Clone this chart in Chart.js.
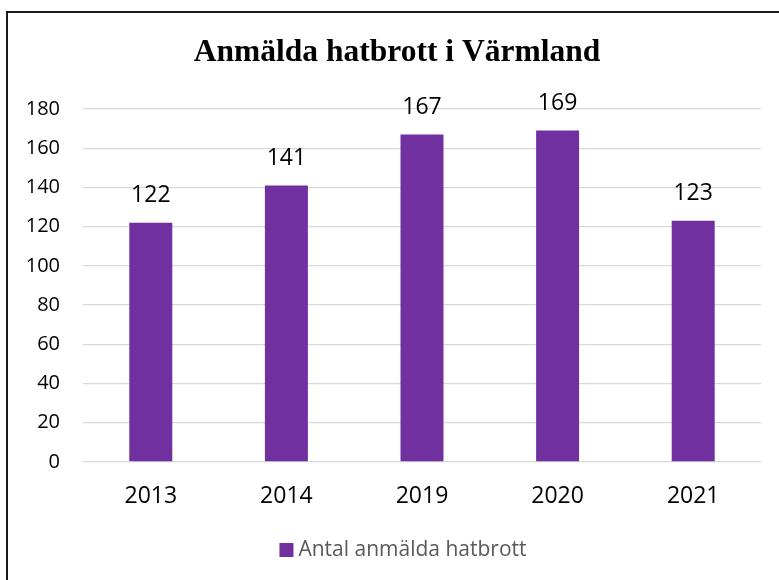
<!DOCTYPE html>
<html>
<head>
<meta charset="utf-8">
<script src="https://cdn.jsdelivr.net/npm/chart.js@4/dist/chart.umd.min.js"></script>
<style>
  html, body { margin: 0; padding: 0; background: #fff; overflow: hidden; }
  #frame { position: absolute; left: 6px; top: 11px; width: 900px; height: 700px; border: 2px solid #1a1a1a; }
  #chart { position: absolute; left: 0; top: 0; }
</style>
</head>
<body>
<div id="frame"></div>
<canvas id="chart" width="779" height="580"></canvas>
<script>
// ---------------- DATA ----------------
const years = ["2013", "2014", "2019", "2020", "2021"];
const reports = [122, 141, 167, 169, 123];
const seriesName = "Antal anmälda hatbrott";
const chartTitle = "Anmälda hatbrott i Värmland";

const purple = "#7030A0";
const textFont = "'Open Sans', 'Liberation Sans', sans-serif";

// value labels above each bar
const valueLabels = {
    id: "valueLabels",
    afterDatasetsDraw(chart) {
        const ctx = chart.ctx;
        const meta = chart.getDatasetMeta(0);
        ctx.save();
        ctx.font = "23px " + textFont;
        ctx.fillStyle = "#000";
        ctx.textAlign = "center";
        ctx.textBaseline = "middle";
        meta.data.forEach((bar, i) => {
            ctx.fillText(String(reports[i]), bar.x, bar.y - 27);
        });
        ctx.restore();
    }
};

// title and legend, placed like the Excel original (slightly right of the plot centre)
const headerLegend = {
    id: "headerLegend",
    afterDraw(chart) {
        const ctx = chart.ctx;
        const ds = chart.data.datasets[0];
        ctx.save();
        ctx.fillStyle = "#000";
        ctx.textAlign = "center";
        ctx.textBaseline = "middle";
        ctx.font = "bold 31.5px 'Liberation Serif', serif";
        ctx.fillText(chartTitle, 397, 53);

        ctx.font = "21px " + textFont;
        const textW = ctx.measureText(ds.label).width;
        const total = 14 + 5 + textW;
        const x0 = 403 - total / 2;
        ctx.fillStyle = ds.backgroundColor;
        ctx.fillRect(x0, 543, 14, 14);
        ctx.fillStyle = "#595959";
        ctx.textAlign = "left";
        ctx.fillText(ds.label, x0 + 19, 550);
        ctx.restore();
    }
};

new Chart(document.getElementById("chart").getContext("2d"), {
    type: "bar",
    data: {
        labels: years,
        datasets: [{
            label: seriesName,
            data: reports,
            backgroundColor: purple,
            borderWidth: 0,
            categoryPercentage: 1,
            barPercentage: 0.317
        }]
    },
    options: {
        responsive: false,
        animation: false,
        layout: { padding: { left: 0, right: 18, top: 109, bottom: 51 } },
        plugins: {
            title: { display: false },
            legend: { display: false },
            tooltip: { enabled: false }
        },
        scales: {
            x: {
                grid: { display: false },
                border: { display: false },
                ticks: { color: "#000", font: { family: textFont, size: 23 }, padding: 13 },
                afterFit: (scale) => { scale.height = 67; }
            },
            y: {
                min: 0,
                max: 180,
                grid: { color: "#d9d9d9", lineWidth: 1.3, drawTicks: false },
                border: { display: false },
                ticks: { stepSize: 20, color: "#000", font: { family: textFont, size: 20 }, padding: 23 },
                afterFit: (scale) => { scale.width = 83; }
            }
        }
    },
    plugins: [valueLabels, headerLegend]
});
</script>
</body>
</html>
